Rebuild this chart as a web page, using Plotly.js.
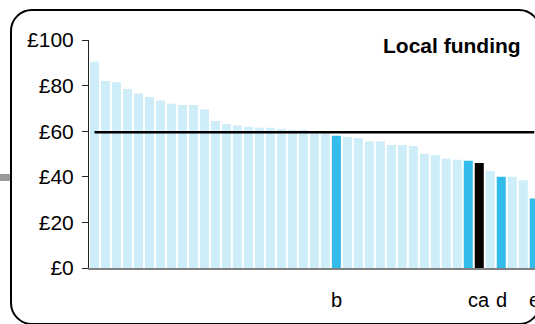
<!DOCTYPE html>
<html>
<head>
<meta charset="utf-8">
<script src="https://cdn.plot.ly/plotly-3.0.1.min.js"></script>
<style>
  html, body { margin: 0; padding: 0; background: #fff; overflow: hidden; }
  #wrap { position: relative; width: 535px; height: 324px; overflow: hidden; }
  #chart { position: absolute; left: 0; top: 0; width: 535px; height: 324px; }
  #frame { position: absolute; left: 10px; top: 9px; width: 527px; height: 312px;
           border: 2px solid #000; border-radius: 22px; pointer-events: none; }
  #stub { position: absolute; left: 0; top: 174px; width: 11px; height: 7px; background: #9a9a9a; }
</style>
</head>
<body>
<div id="wrap">
  <div id="chart"></div>
  <div id="stub"></div>
  <div id="frame"></div>
</div>
<script>
// Local funding per area (£), sorted descending
const values = [90.5, 82, 81.5, 78.5, 76.5, 75, 73.5, 72, 71.5, 71.5,
                69.5, 64.5, 63, 62.5, 62, 61.5, 61.5, 61, 60.5, 60.5,
                60, 59, 58, 57.5, 57, 55.5, 55.5, 54, 54, 53.5,
                50, 49.5, 48, 47.5, 47, 46, 42.5, 40, 40, 38.5, 30.5];
// Highlight group per bar: 0 = other, 1 = highlighted, 2 = selected
const groups = [0,0,0,0,0,0,0,0,0,0, 0,0,0,0,0,0,0,0,0,0,
                0,0,1,0,0,0,0,0,0,0, 0,0,0,0,1,2,0,1,0,0, 1];
const labels = ["","","","","","","","","","", "","","","","","","","","","",
                "","","b","","","","","","","", "","","","","","ca","","d","","", "e"];
const meanValue = 59.5;
const yTickVals = [0, 20, 40, 60, 80, 100];
const titleText = "Local funding";

const groupColors = ["#cdedf9", "#33bbea", "#000000"];
const idx = values.map((v, i) => i);

const bars = {
  type: "bar",
  x: idx,
  y: values,
  marker: { color: groups.map(g => groupColors[g]), line: { width: 0 } },
  hoverinfo: "skip",
  showlegend: false
};
const meanLine = {
  type: "scatter",
  mode: "lines",
  x: [idx[0], idx[idx.length - 1]],
  y: [meanValue, meanValue],
  line: { color: "#000", width: 2.5 },
  hoverinfo: "skip",
  showlegend: false
};

const font = "'Liberation Sans', Arial, sans-serif";

const labelAnnotations = labels
  .map((t, i) => ({ t, i }))
  .filter(o => o.t !== "")
  .map(o => ({
    text: o.t, xref: "x", yref: "paper",
    x: o.i, y: -0.14, xanchor: "center", yanchor: "middle",
    showarrow: false,
    font: { size: 20, family: font, color: "#000" }
  }));

const layout = {
  width: 535, height: 324,
  margin: { l: 89, r: 0, t: 40, b: 56, pad: 0 },
  paper_bgcolor: "rgba(0,0,0,0)",
  plot_bgcolor: "rgba(0,0,0,0)",
  bargap: 0.18,
  font: { family: font, color: "#000" },
  xaxis: {
    range: [-0.5, 40.07],
    showticklabels: false,
    ticks: "", showgrid: false, zeroline: false,
    showline: true, linecolor: "#808080", linewidth: 2
  },
  yaxis: {
    range: [0, 100],
    tickvals: yTickVals,
    ticktext: yTickVals.map(v => "£" + v),
    ticks: "outside", ticklen: 6, tickcolor: "#222", tickwidth: 1,
    showgrid: false, zeroline: false,
    showline: true, linecolor: "#222", linewidth: 1,
    tickfont: { size: 21, family: font, color: "#000" },
    ticklabelstandoff: 4
  },
  annotations: [{
    text: "<b>" + titleText + "</b>",
    xref: "paper", yref: "paper",
    x: 0.973, y: 0.974, xanchor: "right", yanchor: "middle",
    showarrow: false,
    font: { size: 21, family: font, color: "#000" }
  }].concat(labelAnnotations)
};

Plotly.newPlot("chart", [bars, meanLine], layout, { staticPlot: true, displayModeBar: false });
</script>
</body>
</html>
